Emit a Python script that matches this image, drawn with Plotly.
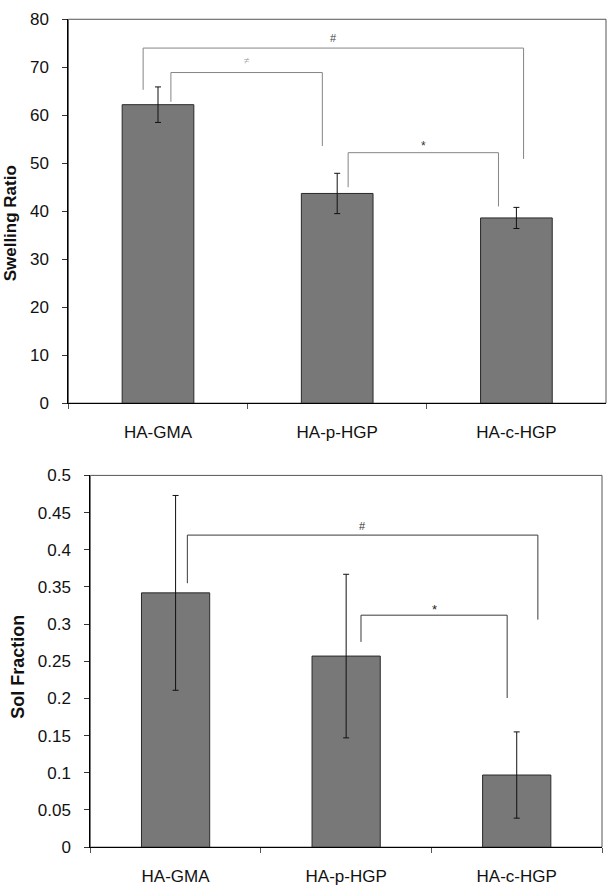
import plotly.graph_objects as go

# ---------------- data ----------------
categories = ["HA-GMA", "HA-p-HGP", "HA-c-HGP"]

swelling_ratio = [62.2, 43.7, 38.6]
swelling_err = [3.7, 4.2, 2.2]
swelling_ticks = [0, 10, 20, 30, 40, 50, 60, 70, 80]

sol_fraction = [0.342, 0.257, 0.097]
sol_err = [0.131, 0.110, 0.058]
sol_ticks = [0, 0.05, 0.1, 0.15, 0.2, 0.25, 0.3, 0.35, 0.4, 0.45, 0.5]
sol_ticktext = ["0", "0.05", "0.1", "0.15", "0.2", "0.25", "0.3", "0.35", "0.4", "0.45", "0.5"]

# significance brackets: (left idx, left foot, top, right idx, right foot, label, label y)
swelling_brackets = [
    (-0.083, 65.3, 74.0, 2.04, 50.9, "#", 76.2),
    (0.072, 62.8, 68.9, 0.917, 53.6, "≠", 71.4),
    (1.061, 45.0, 52.2, 1.90, 41.0, "*", 53.6),
]
sol_brackets = [
    (0.069, 0.355, 0.4197, 2.124, 0.306, "#", 0.432),
    (1.087, 0.276, 0.312, 1.944, 0.2006, "*", 0.319),
]

FONT = "Arial, Liberation Sans, sans-serif"
W, H = 610, 896

fig = go.Figure()

bar_style = dict(marker=dict(color="#787878", line=dict(color="#2a2a2a", width=1)), width=0.4,
                 showlegend=False)
err_style = dict(type="data", color="#111111", thickness=1, width=3, visible=True)

fig.add_trace(go.Bar(x=categories, y=swelling_ratio, xaxis="x", yaxis="y",
                     error_y=dict(array=swelling_err, **err_style), **bar_style))
fig.add_trace(go.Bar(x=categories, y=sol_fraction, xaxis="x2", yaxis="y2",
                     error_y=dict(array=sol_err, **err_style), **bar_style))

# domains in pixels
top = dict(l=68.4, r=606, t=10.5, b=402.7)
bot = dict(l=90.3, r=602, t=476.5, b=856.3)


def xdom(d):
    return [d["l"] / W, d["r"] / W]


def ydom(d):
    return [1 - d["b"] / H, 1 - d["t"] / H]


xcommon = dict(type="category", showline=True, linecolor="#000", linewidth=1, ticks="outside",
               tickson="boundaries", ticklen=5, tickcolor="#555", showgrid=False,
               tickfont=dict(family=FONT, size=17, color="#111"), ticklabelstandoff=13)
ycommon = dict(showline=True, linecolor="#000", linewidth=1, ticks="outside", ticklen=5,
               tickcolor="#333", showgrid=False, zeroline=False,
               tickfont=dict(family=FONT, size=17, color="#111"), ticklabelstandoff=10)

fig.update_layout(
    width=W, height=H, margin=dict(l=0, r=0, t=0, b=0),
    paper_bgcolor="white", plot_bgcolor="white", bargap=0.6,
    xaxis=dict(domain=xdom(top), anchor="y", range=[-0.5, 2.5], **xcommon),
    yaxis=dict(domain=ydom(top), anchor="x", range=[0, 80], tickvals=swelling_ticks, **ycommon),
    xaxis2=dict(domain=xdom(bot), anchor="y2", range=[-0.5, 2.5], **xcommon),
    yaxis2=dict(domain=ydom(bot), anchor="x2", range=[0, 0.5], tickvals=sol_ticks,
                ticktext=sol_ticktext, **ycommon),
)

shapes = []
annotations = []

# frame rectangles
for xr, yr in (("x domain", "y domain"), ("x2 domain", "y2 domain")):
    shapes.append(dict(type="rect", xref=xr, yref=yr, x0=0, x1=1, y0=0, y1=1,
                       line=dict(color="#555", width=1), layer="below"))


def add_brackets(brackets, xr, yr, line_color, label_styles):
    for (xl, yl, yt, xrr, yrr, lab, ly) in brackets:
        seg = [(xl, yl, xl, yt), (xl, yt, xrr, yt), (xrr, yt, xrr, yrr)]
        for (a, b, c, d) in seg:
            shapes.append(dict(type="line", xref=xr, yref=yr, x0=a, y0=b, x1=c, y1=d,
                               line=dict(color=line_color, width=1)))
        size, col = label_styles.get(lab, (10, "#333"))
        annotations.append(dict(x=(xl + xrr) / 2, y=ly, xref=xr, yref=yr, text=lab,
                                showarrow=False, font=dict(family=FONT, size=size, color=col)))


add_brackets(swelling_brackets, "x", "y", "#858585",
             {"#": (11, "#444"), "≠": (10, "#b0b0b0"), "*": (12, "#333")})
add_brackets(sol_brackets, "x2", "y2", "#3a3a3a",
             {"#": (11, "#333"), "*": (13, "#222")})

# y axis titles
annotations.append(dict(text="<b>Swelling Ratio</b>", xref="paper", yref="paper",
                        x=10 / W, y=1 - 219 / H, xanchor="center", yanchor="middle",
                        textangle=-90, showarrow=False,
                        font=dict(family=FONT, size=17, color="#111")))
annotations.append(dict(text="<b>Sol Fraction</b>", xref="paper", yref="paper",
                        x=18 / W, y=1 - 672 / H, xanchor="center", yanchor="middle",
                        textangle=-90, showarrow=False,
                        font=dict(family=FONT, size=18, color="#111")))

fig.update_layout(shapes=shapes, annotations=annotations)

fig.write_html("out.html", config={"displayModeBar": False},
               post_script="document.body.style.margin='0px';")
